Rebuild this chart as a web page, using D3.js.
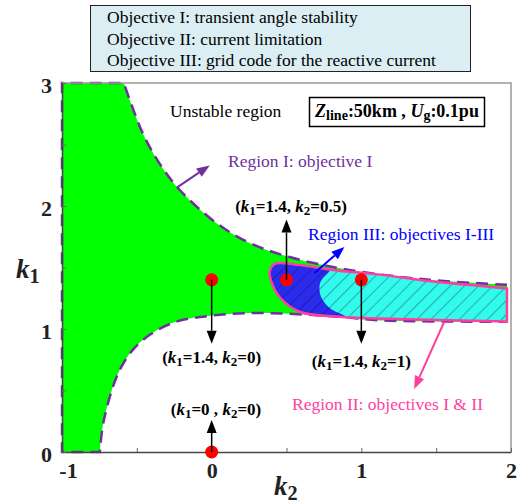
<!DOCTYPE html>
<head>
  <meta charset="utf-8">
  <script src="https://d3js.org/d3.v7.min.js"></script>
  <style>
    body { margin: 0; background: #fff; }
    svg { display: block; }
    text { font-family: "Liberation Serif", "Times New Roman", serif; }
  </style>
</head>
<body>
  <svg width="517" height="503"></svg>
  <script>
    // data: boundary of region I (k2 -> k1)
    var upperK2 = [-0.587, -0.46, -0.34, -0.213, 0.033, 0.253, 0.52, 0.92, 1.453, 1.973];
    var upperK1 = [3.0, 2.59, 2.33, 2.13, 1.86, 1.70, 1.585, 1.48, 1.40, 1.36];
    var lowerK2 = [-0.747, -0.72, -0.613, -0.48, -0.26, 0.007, 0.30, 0.853, 1.12, 1.973];
    var lowerK1 = [0.0, 0.26, 0.67, 0.89, 1.05, 1.11, 1.13, 1.10, 1.07, 1.06];

    // region II outline (from bottom right, round the tip, to top right)
    var reg2K2 = [1.973, 1.12, 0.853, 0.587, 0.453, 0.40, 0.387, 0.42, 0.587, 0.807, 1.14, 1.453, 1.973];
    var reg2K1 = [1.06, 1.085, 1.10, 1.14, 1.26, 1.38, 1.46, 1.53, 1.52, 1.48, 1.44, 1.39, 1.33];

    // border between region III (blue) and the rest of region II
    var divK2 = [0.86, 0.78, 0.73, 0.72, 0.74, 0.80, 0.90, 0.95];
    var divK1 = [1.56, 1.46, 1.39, 1.32, 1.24, 1.16, 1.10, 1.04];

    // operating points
    var ptK2 = [0, 0.5, 1, 0];
    var ptK1 = [1.4, 1.4, 1.4, 0];

    var xTicks = [-1, -0.5, 0, 0.5, 1, 1.5, 2];
    var yTicks = [0, 0.5, 1, 1.5, 2, 2.5, 3];

    var objectives = ["Objective I: transient angle stability",
                      "Objective II: current limitation",
                      "Objective III: grid code for the reactive current"];

    var svg = d3.select('svg');
    var x = d3.scaleLinear().domain([-1, 2]).range([62, 511]);
    var y = d3.scaleLinear().domain([0, 3]).range([452, 83]);

    function pts(a, b) { return a.map(function(v, i){ return [v, b[i]]; }); }
    var line = d3.line()
      .x(function(d){ return x(d[0]); })
      .y(function(d){ return y(d[1]); })
      .curve(d3.curveCatmullRom);

    var defs = svg.append('defs');
    var pat = defs.append('pattern')
      .attr('id', 'hatch')
      .attr('patternUnits', 'userSpaceOnUse')
      .attr('width', 10).attr('height', 10)
      .attr('patternTransform', 'rotate(45)');
    pat.append('line')
      .attr('x1', 0).attr('y1', 0).attr('x2', 0).attr('y2', 10)
      .attr('stroke', 'rgba(0,0,60,0.3)').attr('stroke-width', 2.2);

    // region I
    var upper = pts(upperK2, upperK1).reverse();
    var lower = pts(lowerK2, lowerK1);
    var regionI = line(upper) +
      'L' + x(-1) + ',' + y(3) + 'L' + x(-1) + ',' + y(0) + 'L' + x(lower[0][0]) + ',' + y(0) +
      'L' + line(lower).slice(1);
    svg.append('path')
      .attr('d', regionI)
      .attr('fill', '#00ff00')
      .attr('stroke', '#7030a0')
      .attr('stroke-width', 2.5)
      .attr('stroke-dasharray', '12,7');

    // frame
    svg.append('path')
      .attr('d', 'M' + x(-1) + ',' + y(3) + 'H' + x(2) + 'V' + y(0))
      .attr('fill', 'none').attr('stroke', '#999').attr('stroke-width', 1.5);

    // region II / III
    var reg2 = line(pts(reg2K2, reg2K1)) + 'Z';
    defs.append('clipPath').attr('id', 'clip2').append('path').attr('d', reg2);
    svg.append('path').attr('d', reg2).attr('fill', '#33fbec');
    var div = pts(divK2, divK1);
    var reg3 = line(div) + 'L' + x(0.3) + ',' + y(divK1[divK1.length - 1]) +
      'L' + x(0.3) + ',' + y(divK1[0]) + 'Z';
    svg.append('path').attr('d', reg3).attr('fill', '#2b2bec').attr('clip-path', 'url(#clip2)');
    svg.append('path').attr('d', reg2).attr('fill', 'url(#hatch)');
    svg.append('path').attr('d', reg2)
      .attr('fill', 'none').attr('stroke', '#ff3fa0').attr('stroke-width', 2.5);

    // axes
    var tickFont = function(g) {
      g.select('.domain').attr('stroke', '#444').attr('stroke-width', 1.5);
      g.selectAll('.tick line').attr('stroke', '#666');
      g.selectAll('text')
        .attr('font-family', '"Liberation Serif", serif')
        .attr('font-weight', 'bold')
        .attr('font-size', 22)
        .attr('fill', '#222');
    };
    var fmt = function(d){ return d % 1 === 0 ? String(d) : ''; };
    svg.append('g')
      .attr('transform', 'translate(0,' + y(0) + ')')
      .call(d3.axisBottom(x).tickValues(xTicks).tickFormat(fmt).tickSizeInner(-4).tickSizeOuter(0).tickPadding(10))
      .call(tickFont)
      .selectAll('text').attr('dx', function(d){ return d === -1 ? 6 : 0; });
    svg.append('g')
      .attr('transform', 'translate(' + x(-1) + ',0)')
      .call(d3.axisLeft(y).tickValues(yTicks).tickFormat(fmt).tickSizeInner(-4).tickSizeOuter(0).tickPadding(10))
      .call(tickFont)
      .selectAll('text').attr('dy', '0.42em');

    // axis titles
    function kLabel(px, py, sub, size) {
      var t = svg.append('text').attr('x', px).attr('y', py)
        .attr('font-size', size).attr('font-weight', 'bold').attr('fill', '#222');
      t.append('tspan').attr('font-style', 'italic').text('k');
      t.append('tspan').attr('font-size', size * 0.75).attr('dy', size * 0.2).text(sub);
    }
    kLabel(16, 278, '1', 27);
    kLabel(274, 495, '2', 27);

    // markers
    svg.selectAll('circle.pt')
      .data(pts(ptK2, ptK1))
      .enter().append('circle')
      .attr('class', 'pt')
      .attr('cx', function(d){ return x(d[0]); })
      .attr('cy', function(d){ return y(d[1]); })
      .attr('r', 6.5)
      .attr('fill', '#ff0000');

    // arrows
    function arrow(x1, y1, x2, y2, color, w) {
      var px1 = x(x1), py1 = y(y1), px2 = x(x2), py2 = y(y2);
      var ang = Math.atan2(py2 - py1, px2 - px1);
      var L = 13, W = 5;
      var bx = px2 - L * Math.cos(ang), by = py2 - L * Math.sin(ang);
      svg.append('line').attr('x1', px1).attr('y1', py1).attr('x2', bx).attr('y2', by)
        .attr('stroke', color).attr('stroke-width', w);
      svg.append('path')
        .attr('d', 'M' + px2 + ',' + py2 +
          'L' + (bx + W * Math.sin(ang)) + ',' + (by - W * Math.cos(ang)) +
          'L' + (bx - W * Math.sin(ang)) + ',' + (by + W * Math.cos(ang)) + 'Z')
        .attr('fill', color);
    }
    arrow(0, 1.4, 0, 0.88, '#000', 1.5);
    arrow(1, 1.4, 1, 0.88, '#000', 1.5);
    arrow(0.5, 1.4, 0.5, 1.89, '#000', 1.5);
    arrow(0, 0, 0, 0.26, '#000', 1.5);
    arrow(-0.233, 2.15, -0.013, 2.33, '#7030a0', 2);
    arrow(0.687, 1.455, 0.887, 1.667, '#0000ff', 2);
    arrow(1.553, 1.057, 1.353, 0.512, '#ff3fa0', 2);

    // point labels
    function ptLabel(cx, py, k1, k2) {
      var t = svg.append('text').attr('x', cx).attr('y', py)
        .attr('text-anchor', 'middle').attr('font-size', 17).attr('font-weight', 'bold');
      t.append('tspan').text('(');
      t.append('tspan').attr('font-style', 'italic').text('k');
      t.append('tspan').attr('font-size', 13).attr('dy', 3).text('1');
      t.append('tspan').attr('dy', -3).text('=' + k1 + ', ');
      t.append('tspan').attr('font-style', 'italic').text('k');
      t.append('tspan').attr('font-size', 13).attr('dy', 3).text('2');
      t.append('tspan').attr('dy', -3).text('=' + k2 + ')');
    }
    ptLabel(x(0), 363, '1.4', '0');
    ptLabel(x(1), 367, '1.4', '1');
    ptLabel(291, 212, '1.4', '0.5');
    ptLabel(216, 415, '0 ', '0');

    // region texts
    svg.append('text').attr('x', 170).attr('y', 117).attr('font-size', 17.5).text('Unstable region');
    svg.append('text').attr('x', 228).attr('y', 167).attr('font-size', 17.5).attr('fill', '#7030a0')
      .text('Region I: objective I');
    svg.append('text').attr('x', 308).attr('y', 240).attr('font-size', 17.5).attr('fill', '#0000ff')
      .text('Region III: objectives I-III');
    svg.append('text').attr('x', 292).attr('y', 410).attr('font-size', 17.5).attr('fill', '#ff3fa0')
      .text('Region II: objectives I & II');

    // parameter box
    svg.append('rect').attr('x', 309.5).attr('y', 97.5).attr('width', 175).attr('height', 29)
      .attr('fill', '#fff').attr('stroke', '#000').attr('stroke-width', 1.5);
    var pt = svg.append('text').attr('x', 397).attr('y', 117).attr('text-anchor', 'middle')
      .attr('font-size', 18).attr('font-weight', 'bold');
    pt.append('tspan').attr('font-style', 'italic').text('Z');
    pt.append('tspan').attr('font-size', 14).attr('dy', 3).text('line');
    pt.append('tspan').attr('dy', -3).text(':50km , ');
    pt.append('tspan').attr('font-style', 'italic').text('U');
    pt.append('tspan').attr('font-size', 14).attr('dy', 3).text('g');
    pt.append('tspan').attr('dy', -3).text(':0.1pu');

    // objectives box
    svg.append('rect').attr('x', 90.5).attr('y', 5.5).attr('width', 380).attr('height', 66)
      .attr('fill', '#dbeef4').attr('stroke', '#222').attr('stroke-width', 1);
    svg.selectAll('text.obj')
      .data(objectives)
      .enter().append('text')
      .attr('class', 'obj')
      .attr('x', 107)
      .attr('y', function(d, i){ return 23 + i * 21.5; })
      .attr('font-size', 17.5)
      .text(function(d){ return d; });
  </script>
</body>
</html>
